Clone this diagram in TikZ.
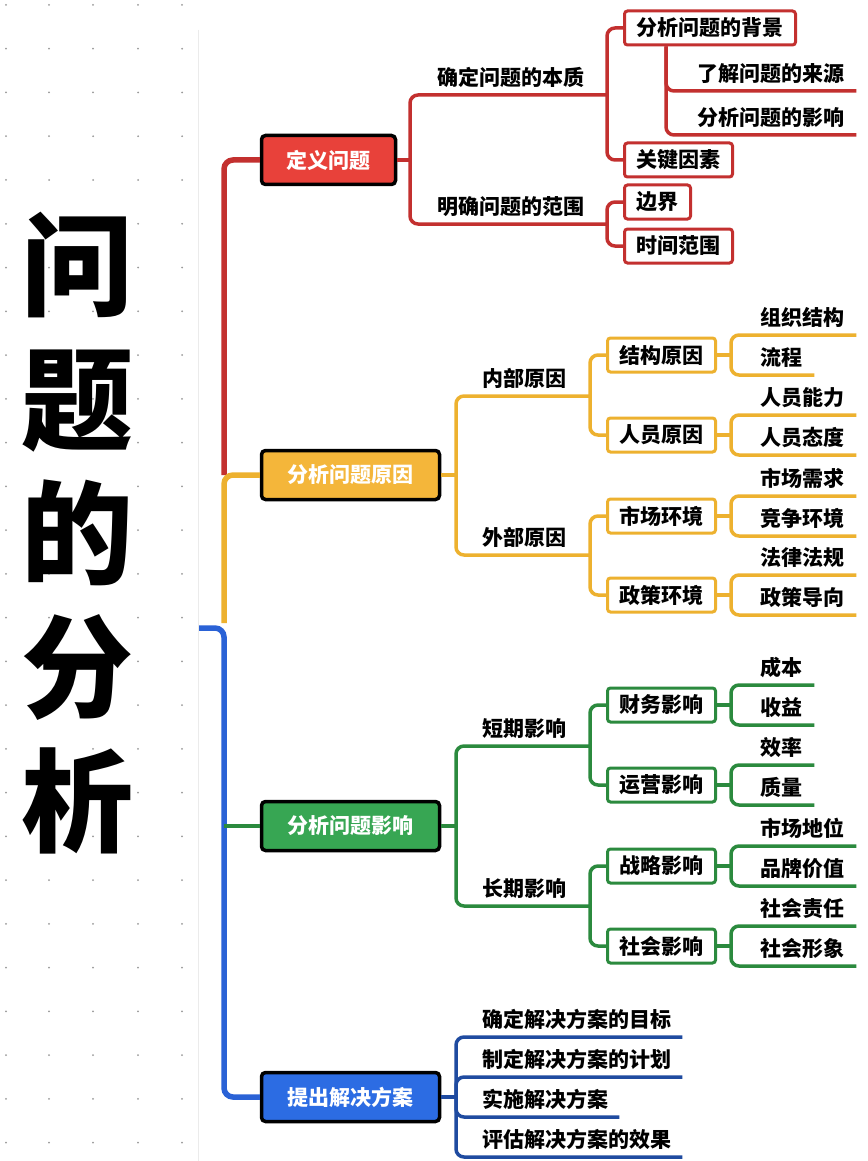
\documentclass[tikz,border=0pt]{standalone}
\usepackage{fontspec}
\setmainfont{Noto Sans CJK SC}
\usepackage{tikz}
\usetikzlibrary{calc}

\definecolor{redln}{HTML}{C3302F}
\definecolor{redfl}{HTML}{E8413A}
\definecolor{yelln}{HTML}{EDB12F}
\definecolor{yelfl}{HTML}{F4B63A}
\definecolor{grnln}{HTML}{2B8A3E}
\definecolor{grnfl}{HTML}{37A653}
\definecolor{bluln}{HTML}{2A62D6}
\definecolor{blufl}{HTML}{2C6CE3}
\definecolor{navln}{HTML}{1F4BA0}

\begin{document}
\begin{tikzpicture}[x=1pt,y=-1pt,
    every node/.style={font=\bfseries\fontsize{21}{24}\selectfont},
    topic/.style={draw=black,line width=3.5pt,rounded corners=4pt,fill=#1,
      text=white,minimum height=49pt,minimum width=178pt},
    sub/.style={draw=#1,line width=3pt,rounded corners=3pt,fill=white,
      inner xsep=12pt,minimum height=34pt,anchor=west},
    lbl/.style={anchor=south west,inner xsep=0pt,inner ysep=7pt},
    spine/.style={draw=#1,line width=5.5pt,rounded corners=9pt},
    ln/.style={draw=#1,line width=3.5pt,rounded corners=8pt},
  ]
  \useasboundingbox[fill=white] (0,0) rectangle (867,1161);

  % -- dotted paper and title --
  \foreach \x in {6,49,93,138,182}
    \foreach \k in {0,...,26}
      \fill[black!40] (\x,{5+43.75*\k}) circle (1pt);
  \draw[black!8,line width=1pt] (198,30) -- (198,1161);
  \node[font=\bfseries\fontsize{112}{134}\selectfont,align=center,inner sep=0pt]
       (title) at (77,533) {问\\题\\的\\分\\析};

  % -- the spine --
  \coordinate (sp1) at (224,475);
  \coordinate (sp2) at (224,623);
  \coordinate (sp3) at (199,628);
  \coordinate (sp4) at (224,1097);
  \coordinate (gj)  at (224,826);

  % -- define the problem --
  \node[topic=redfl,minimum width=134pt] (def) at (328.5,160) {定义问题};
  \draw[spine=redln] (def.west) -| (sp1);
  \coordinate (dj) at (410,160);
  \node[lbl] (nat) at (437,95)  {确定问题的本质};
  \node[lbl] (rng) at (437,224) {明确问题的范围};
  \coordinate (natj) at (607,95);
  \coordinate (rngj) at (607,224);
  \node[sub=redln] (bg)  at (623,28)  {分析问题的背景};
  \node[sub=redln] (key) at (623,160) {关键因素};
  \node[sub=redln] (bd)  at (623,202) {边界};
  \node[sub=redln] (tr)  at (623,246) {时间范围};
  \node[lbl] (src) at (697,91)  {了解问题的来源};
  \node[lbl] (eff) at (697,135) {分析问题的影响};
  \coordinate (bgj) at ($(bg.south west)+(43,0)$);
  \draw[ln=redln] (def.east) -- (dj);
  \draw[ln=redln] (dj) |- (natj);
  \draw[ln=redln] (dj) |- (rngj);
  \draw[ln=redln] (natj) |- (bg.west);
  \draw[ln=redln] (natj) |- (key.west);
  \draw[ln=redln] (rngj) |- (bd.west);
  \draw[ln=redln] (rngj) |- (tr.west);
  \draw[ln=redln] (bgj) |- ([xshift=12pt]src.south east);
  \draw[ln=redln] (bgj) |- ([xshift=12pt]eff.south east);

  % -- causes --
  \node[topic=yelfl] (cau) at (350.5,475) {分析问题原因};
  \draw[spine=yelln] (cau.west) -| (sp2);
  \coordinate (cj) at (456,475);
  \node[lbl] (inn) at (482,396) {内部原因};
  \node[lbl] (ext) at (482,555) {外部原因};
  \coordinate (innj) at (590,396);
  \coordinate (extj) at (590,555);
  \draw[ln=yelln] (cau.east) -- (cj);
  \draw[ln=yelln] (cj) |- (innj);
  \draw[ln=yelln] (cj) |- (extj);
  \foreach \nm/\y/\t/\ta/\tb/\p in {str/355/结构原因/组织结构/流程/innj,
      per/435/人员原因/人员能力/人员态度/innj,
      mkt/516/市场环境/市场需求/竞争环境/extj,
      pol/595/政策环境/法律法规/政策导向/extj}{
    \node[sub=yelln] (\nm) at (606,\y) {\t};
    \draw[ln=yelln] (\p) |- (\nm.west);
    \draw[ln=yelln] (\nm.east) -- ++(14,0) coordinate (\nm-j);
    \node[lbl] (\nm-a) at (760,\y-20) {\ta};
    \node[lbl] (\nm-b) at (760,\y+20) {\tb};
    \draw[ln=yelln] (\nm-j) |- ([xshift=12pt]\nm-a.south east);
    \draw[ln=yelln] (\nm-j) |- ([xshift=12pt]\nm-b.south east);
  }

  % -- impact --
  \node[topic=grnfl] (imp) at (350.5,826) {分析问题影响};
  \coordinate (ij) at (456,826);
  \node[lbl] (sht) at (482,746) {短期影响};
  \node[lbl] (lng) at (482,906) {长期影响};
  \coordinate (shtj) at (590,746);
  \coordinate (lngj) at (590,906);
  \draw[ln=grnln] (imp.east) -- (ij);
  \draw[ln=grnln] (ij) |- (shtj);
  \draw[ln=grnln] (ij) |- (lngj);
  \foreach \nm/\y/\t/\ta/\tb/\p in {fin/705/财务影响/成本/收益/shtj,
      ops/785/运营影响/效率/质量/shtj,
      stg/866/战略影响/市场地位/品牌价值/lngj,
      soc/946/社会影响/社会责任/社会形象/lngj}{
    \node[sub=grnln] (\nm) at (606,\y) {\t};
    \draw[ln=grnln] (\p) |- (\nm.west);
    \draw[ln=grnln] (\nm.east) -- ++(14,0) coordinate (\nm-j);
    \node[lbl] (\nm-a) at (760,\y-20) {\ta};
    \node[lbl] (\nm-b) at (760,\y+20) {\tb};
    \draw[ln=grnln] (\nm-j) |- ([xshift=12pt]\nm-a.south east);
    \draw[ln=grnln] (\nm-j) |- ([xshift=12pt]\nm-b.south east);
  }

  % -- solutions --
  \node[topic=blufl] (sol) at (350.5,1097) {提出解决方案};
  \draw[spine=bluln] (sp3) -| (sp4) -- (sol.west);
  \draw[ln=grnln] (gj) -- (imp.west);
  \coordinate (sj) at (456,1097);
  \draw[ln=navln] (sol.east) -- (sj);
  \foreach \nm/\y/\t in {goal/1037/确定解决方案的目标,
      plan/1077/制定解决方案的计划,
      act/1117/实施解决方案,
      eval/1157/评估解决方案的效果}{
    \node[lbl] (\nm) at (482,\y) {\t};
    \draw[ln=navln] (sj) |- ([xshift=11pt]\nm.south east);
  }
\end{tikzpicture}
\end{document}
